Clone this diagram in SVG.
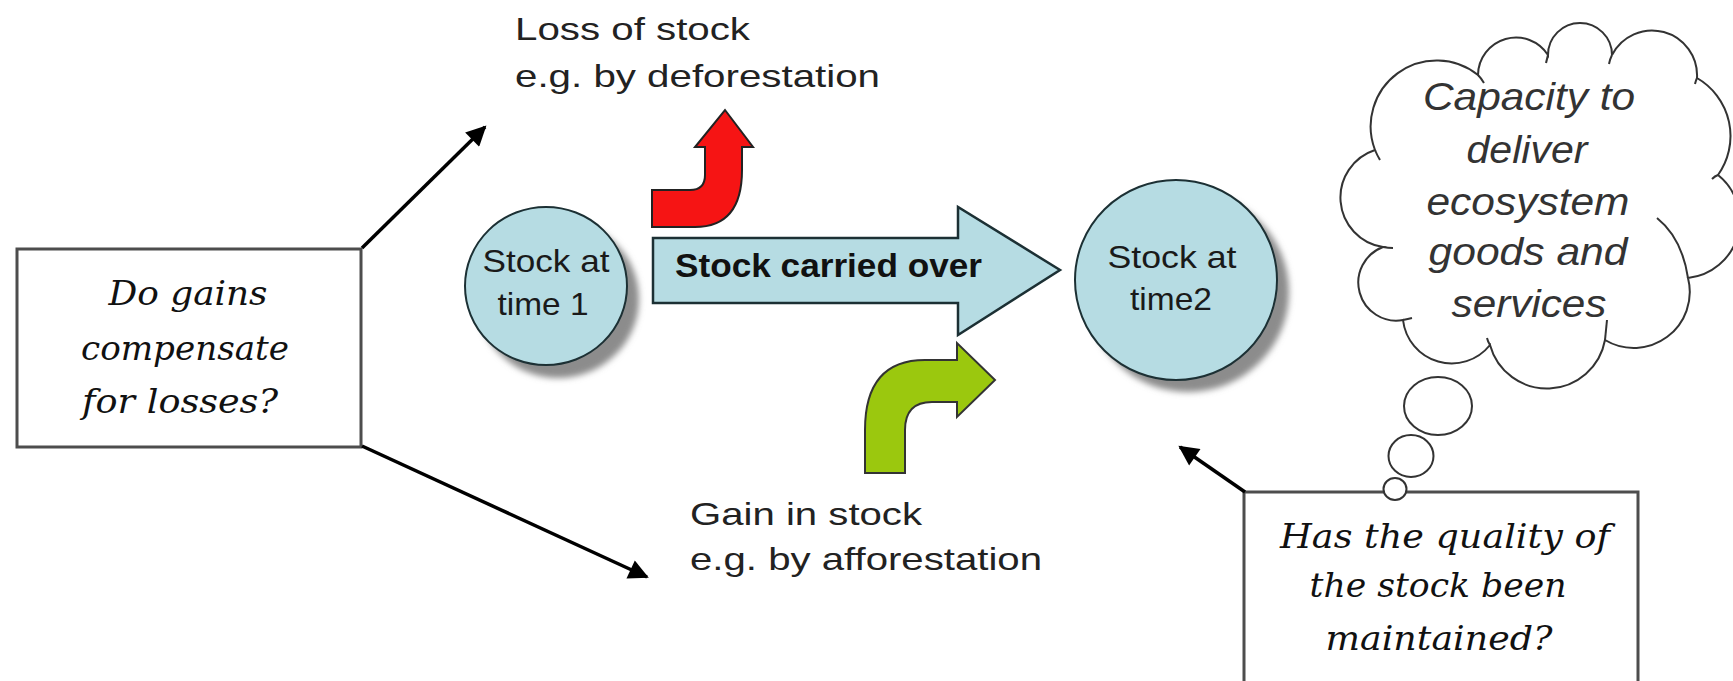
<svg xmlns="http://www.w3.org/2000/svg" width="1733" height="681" viewBox="0 0 1733 681">
  <style>
    .label { font-family: "Liberation Sans", Arial, sans-serif; font-size: 32px; fill: #222; }
    .question { font-family: "DejaVu Serif", "Liberation Serif", serif; font-style: italic; font-size: 34px; fill: #111; text-anchor: middle; }
    .thought { font-family: "Liberation Sans", Arial, sans-serif; font-style: italic; font-size: 39px; fill: #333; text-anchor: middle; }
    .stocktext { font-family: "Liberation Sans", Arial, sans-serif; font-size: 32px; fill: #1a1a1a; text-anchor: middle; }
    .stock { fill: #b6dce3; stroke: #1c3034; stroke-width: 2; }
    .shadow { fill: #8c8c8c; filter: url(#soft); }
    .qbox { fill: #ffffff; stroke: #4d4d4d; stroke-width: 3; }
    .conn { stroke: #000; stroke-width: 3.5; fill: none; marker-end: url(#head); }
    .cloud { fill: #ffffff; stroke: #333; stroke-width: 2; }
    .stub { fill: none; stroke: #333; stroke-width: 2; }
  </style>
  <defs>
    <filter id="soft" x="-20%" y="-20%" width="140%" height="140%">
      <feGaussianBlur stdDeviation="3"/>
    </filter>
    <marker id="head" viewBox="0 0 10 10" refX="9" refY="5" markerWidth="24" markerHeight="20" markerUnits="userSpaceOnUse" orient="auto">
      <path d="M0,0 L10,5 L0,10 Z" fill="#000"/>
    </marker>
  </defs>

  <rect width="1733" height="681" fill="#ffffff"/>

  <!-- question box: gains vs losses -->
  <g id="box-gains">
    <rect class="qbox" x="17" y="249" width="344" height="198"/>
    <text class="question" x="188" y="305" textLength="159" lengthAdjust="spacingAndGlyphs">Do gains</text>
    <text class="question" x="185" y="360" textLength="208" lengthAdjust="spacingAndGlyphs">compensate</text>
    <text class="question" x="180" y="413" textLength="196" lengthAdjust="spacingAndGlyphs">for losses?</text>
  </g>

  <!-- loss label -->
  <g id="label-loss">
    <text class="label" x="515" y="40" textLength="235" lengthAdjust="spacingAndGlyphs">Loss of stock</text>
    <text class="label" x="515" y="87" textLength="365" lengthAdjust="spacingAndGlyphs">e.g. by deforestation</text>
  </g>

  <!-- gain label -->
  <g id="label-gain">
    <text class="label" x="690" y="525" textLength="232" lengthAdjust="spacingAndGlyphs">Gain in stock</text>
    <text class="label" x="690" y="570" textLength="352" lengthAdjust="spacingAndGlyphs">e.g. by afforestation</text>
  </g>

  <!-- stock at time 1 -->
  <g id="stock-time1">
    <ellipse class="shadow" cx="558" cy="299" rx="81" ry="79"/>
    <ellipse class="stock" cx="546" cy="286" rx="81" ry="79"/>
    <text class="stocktext" x="546" y="272" textLength="127" lengthAdjust="spacingAndGlyphs">Stock at</text>
    <text class="stocktext" x="543" y="315" textLength="91" lengthAdjust="spacingAndGlyphs">time 1</text>
  </g>

  <!-- red loss arrow -->
  <g id="loss-arrow">
    <path d="M652,190 L690,190 Q705,190 705,175 L705,147 L695,147 L725,110 L753,147 L742,147 L742,170 Q742,227 695,227 L652,227 Z" fill="#f61414" stroke="#222" stroke-width="2" stroke-linejoin="miter"/>
  </g>

  <!-- stock carried over arrow -->
  <g id="carried-over">
    <path d="M653,238 L958,238 L958,207 L1060,270 L958,335 L958,303 L653,303 Z" fill="#b6dce3" stroke="#1c3034" stroke-width="2.5" stroke-linejoin="miter"/>
    <text x="675" y="277" font-family="Liberation Sans, Arial, sans-serif" font-weight="bold" font-size="33" fill="#111" textLength="307" lengthAdjust="spacingAndGlyphs">Stock carried over</text>
  </g>

  <!-- green gain arrow -->
  <g id="gain-arrow">
    <path d="M865,473 L865,430 Q865,360 925,360 L957,360 L957,343 L995,380 L957,417 L957,402 L932,402 Q905,402 905,430 L905,473 Z" fill="#9bc80e" stroke="#333" stroke-width="2" stroke-linejoin="miter"/>
  </g>

  <!-- stock at time 2 -->
  <g id="stock-time2">
    <ellipse class="shadow" cx="1188" cy="292" rx="101" ry="100"/>
    <ellipse class="stock" cx="1176" cy="280" rx="101" ry="100"/>
    <text class="stocktext" x="1172" y="268" textLength="129" lengthAdjust="spacingAndGlyphs">Stock at</text>
    <text class="stocktext" x="1171" y="310" textLength="82" lengthAdjust="spacingAndGlyphs">time2</text>
  </g>

  <!-- thought cloud -->
  <g id="cloud">
    <path class="cloud" d="M1375,150 A66,66 0 0 1 1478,75 A38,38 0 0 1 1548,55 A32,32 0 0 1 1612,55 A45,45 0 0 1 1697,78 A67,67 0 0 1 1718,175 A58,58 0 0 1 1688,278 A56,56 0 0 1 1605,340 A59,59 0 0 1 1490,345 A49,49 0 0 1 1403,320 A38,38 0 0 1 1383,247 A50,50 0 0 1 1375,150 Z"/>
    <path class="stub" d="M1375,150 Q1377,155 1380,160"/>
    <path class="stub" d="M1478,75 Q1481,78 1484,83"/>
    <path class="stub" d="M1548,55 Q1547,59 1546,63"/>
    <path class="stub" d="M1612,55 Q1610,59 1609,64"/>
    <path class="stub" d="M1697,78 Q1696,80 1695,84"/>
    <path class="stub" d="M1718,175 Q1715,176 1712,179"/>
    <path class="stub" d="M1657,218 Q1682,238 1688,278"/>
    <path class="stub" d="M1605,340 Q1606,330 1607,320"/>
    <path class="stub" d="M1490,345 Q1488,342 1487,338"/>
    <path class="stub" d="M1403,320 Q1408,319 1412,318"/>
    <path class="stub" d="M1383,247 Q1388,248 1393,248"/>
    <text class="thought" x="1529" y="110" textLength="212" lengthAdjust="spacingAndGlyphs">Capacity to</text>
    <text class="thought" x="1527" y="163" textLength="121" lengthAdjust="spacingAndGlyphs">deliver</text>
    <text class="thought" x="1528" y="215" textLength="203" lengthAdjust="spacingAndGlyphs">ecosystem</text>
    <text class="thought" x="1528" y="265" textLength="199" lengthAdjust="spacingAndGlyphs">goods and</text>
    <text class="thought" x="1529" y="317" textLength="155" lengthAdjust="spacingAndGlyphs">services</text>
  </g>

  <!-- question box: quality -->
  <g id="box-quality">
    <rect class="qbox" x="1244" y="492" width="394" height="200"/>
    <text class="question" x="1445" y="548" textLength="330" lengthAdjust="spacingAndGlyphs">Has the quality of</text>
    <text class="question" x="1438" y="597" textLength="257" lengthAdjust="spacingAndGlyphs">the stock been</text>
    <text class="question" x="1439" y="650" textLength="227" lengthAdjust="spacingAndGlyphs">maintained?</text>
  </g>

  <!-- thought bubbles trailing from the cloud -->
  <g id="bubbles">
    <ellipse class="cloud" cx="1438" cy="406" rx="34" ry="29"/>
    <ellipse class="cloud" cx="1411" cy="456" rx="22.5" ry="21"/>
    <ellipse class="cloud" cx="1395" cy="489" rx="11.5" ry="11"/>
  </g>

  <!-- connectors -->
  <g id="connectors">
    <line class="conn" x1="362" y1="248" x2="485" y2="127"/>
    <line class="conn" x1="362" y1="446" x2="647" y2="577"/>
    <line class="conn" x1="1245" y1="492" x2="1180" y2="447"/>
  </g>
</svg>
